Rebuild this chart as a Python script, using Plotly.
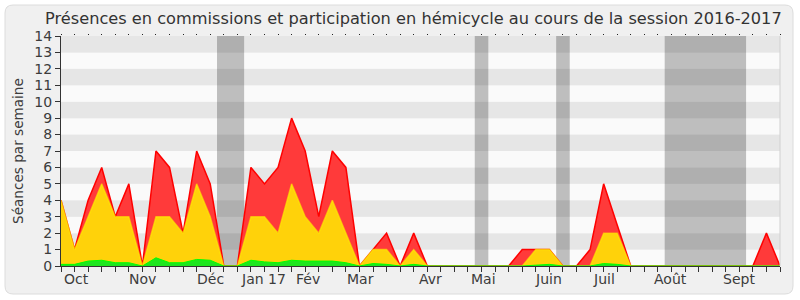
import plotly.graph_objects as go

# ---- data (weekly points, session 2016-2017) ----
weeks = list(range(54))
total = [4, 1, 4, 6, 3, 5, 0, 7, 6, 2, 7, 5, 0, 0, 6, 5, 6, 9, 7, 3, 7, 6, 0, 1, 2, 0, 2,
         0, 0, 0, 0, 0, 0, 0, 1, 1, 1, 0, 0, 1, 5, 2.5, 0, 0, 0, 0, 0, 0, 0, 0, 0, 0, 2, 0]
hemicycle = [4, 1, 3, 5, 3, 3, 0, 3, 3, 2, 5, 3, 0, 0, 3, 3, 2, 5, 3, 2, 4, 2, 0, 1, 1, 0, 1,
             0, 0, 0, 0, 0, 0, 0, 0, 1, 1, 0, 0, 0, 2, 2, 0, 0, 0, 0, 0, 0, 0, 0, 0, 0, 0, 0]
interventions = [0.1, 0.1, 0.3, 0.35, 0.2, 0.2, 0, 0.5, 0.2, 0.2, 0.4, 0.35, 0, 0, 0.35, 0.25,
                 0.2, 0.35, 0.3, 0.3, 0.3, 0.2, 0, 0.15, 0.1, 0, 0.1, 0, 0, 0, 0, 0, 0, 0, 0,
                 0.05, 0.1, 0, 0, 0, 0.15, 0.1, 0, 0, 0, 0, 0, 0, 0, 0, 0, 0, 0, 0]
vacations = [(11.5, 13.5), (30.5, 31.5), (36.5, 37.5), (44.5, 50.5)]
month_labels = ["Oct", "Nov", "Déc", "Jan 17", "Fév", "Mar", "Avr", "Mai", "Juin", "Juil", "Août", "Sept"]
month_pos = [1.16, 6.0, 11.0, 14.94, 18.2, 22.1, 27.2, 31.15, 35.9, 40.0, 44.9, 50.0]
y_ticks = list(range(15))

FONT = "DejaVu Sans"
W, H = 800, 300
L, R, T, B = 61, 20, 36, 34
PW, PH = W - L - R, H - T - B


def px_x(px):
    return (px - L) / PW


def px_y(py):
    return (H - B - py) / PH


fig = go.Figure()
fig.add_trace(go.Scatter(x=weeks, y=total, mode="lines", fill="tozeroy",
                         fillcolor="rgb(255,58,58)", line=dict(color="rgb(255,0,0)", width=1.5),
                         hoverinfo="skip", showlegend=False))
fig.add_trace(go.Scatter(x=weeks, y=hemicycle, mode="lines", fill="tozeroy",
                         fillcolor="rgb(255,210,10)", line=dict(color="rgba(255,240,0,0.6)", width=1.5),
                         hoverinfo="skip", showlegend=False))
fig.add_trace(go.Scatter(x=weeks, y=interventions, mode="lines", fill="tozeroy",
                         fillcolor="rgb(30,230,30)", line=dict(color="rgb(0,255,0)", width=1),
                         hoverinfo="skip", showlegend=False))
# invisible helper trace so that the top tick axis is drawn
fig.add_trace(go.Scatter(x=weeks, y=total, xaxis="x2", mode="lines", opacity=0,
                         hoverinfo="skip", showlegend=False))

shapes = []
# rounded frame
x0, y0, x1, y1, r = 5, 5, 793, 294, 8
rx, ry = r / PW, r / PH
X0, X1 = px_x(x0), px_x(x1)
Y0, Y1 = px_y(y1), px_y(y0)  # bottom, top in paper
path = (f"M {X0+rx},{Y1} L {X1-rx},{Y1} Q {X1},{Y1} {X1},{Y1-ry} "
        f"L {X1},{Y0+ry} Q {X1},{Y0} {X1-rx},{Y0} L {X0+rx},{Y0} Q {X0},{Y0} {X0},{Y0+ry} "
        f"L {X0},{Y1-ry} Q {X0},{Y1} {X0+rx},{Y1} Z")
shapes.append(dict(type="path", path=path, xref="paper", yref="paper", layer="below",
                   fillcolor="#f0f0f0", line=dict(color="#dcdcdc", width=1)))
# stripes
for k in range(14):
    shapes.append(dict(type="rect", xref="paper", yref="y", x0=0, x1=1, y0=k, y1=k + 1,
                       layer="below", line=dict(width=0),
                       fillcolor="#e6e6e6" if k % 2 == 1 else "#fafafa"))
# vacations
for a, b in vacations:
    shapes.append(dict(type="rect", xref="x", yref="paper", x0=a, x1=b, y0=0, y1=1,
                       layer="below", line=dict(width=0), fillcolor="rgba(0,0,0,0.24)"))
# right border
shapes.append(dict(type="line", xref="paper", yref="paper", x0=1, x1=1, y0=0, y1=1,
                   line=dict(color="#d0d0d0", width=1)))

annotations = []
for lab, pos in zip(month_labels, month_pos):
    annotations.append(dict(x=pos, y=px_y(279), xref="x", yref="paper", text=lab,
                            showarrow=False, xanchor="center", yanchor="middle",
                            font=dict(family=FONT, size=14, color="#3c3c3c")))
annotations.append(dict(x=px_x(18), y=0.5, xref="paper", yref="paper",
                        text="Séances par semaine", textangle=-90, showarrow=False,
                        xanchor="center", yanchor="middle",
                        font=dict(family=FONT, size=13.6, color="#3c3c3c")))
annotations.append(dict(x=px_x(413), y=px_y(19), xref="paper", yref="paper",
                        text="Présences en commissions et participation en hémicycle au cours de la session 2016-2017",
                        showarrow=False, xanchor="center", yanchor="middle",
                        font=dict(family=FONT, size=16.2, color="#333333")))

fig.update_layout(
    width=W, height=H,
    margin=dict(l=L, r=R, t=T, b=B, pad=0),
    paper_bgcolor="white", plot_bgcolor="rgba(0,0,0,0)",
    shapes=shapes, annotations=annotations,
    font=dict(family=FONT, color="#3c3c3c"),
    xaxis=dict(range=[0, 53], tickmode="array", tickvals=weeks, ticktext=[""] * len(weeks),
               ticks="outside", ticklen=5, tickcolor="#333333", showgrid=False, zeroline=False,
               showline=True, linecolor="#333333", linewidth=1, fixedrange=True),
    xaxis2=dict(range=[0, 53], overlaying="x", side="top", tickmode="array", tickvals=weeks,
                showticklabels=False, ticks="outside", ticklen=1, tickcolor="#222222",
                showgrid=False, zeroline=False, showline=False, fixedrange=True),
    yaxis=dict(range=[0, 14], tickmode="array", tickvals=y_ticks, ticks="outside", ticklen=5,
               tickcolor="#333333", tickfont=dict(family=FONT, size=14, color="#3c3c3c"),
               showgrid=False, zeroline=False, showline=True, linecolor="#333333", linewidth=1,
               fixedrange=True),
)

fig.write_html("out.html")
